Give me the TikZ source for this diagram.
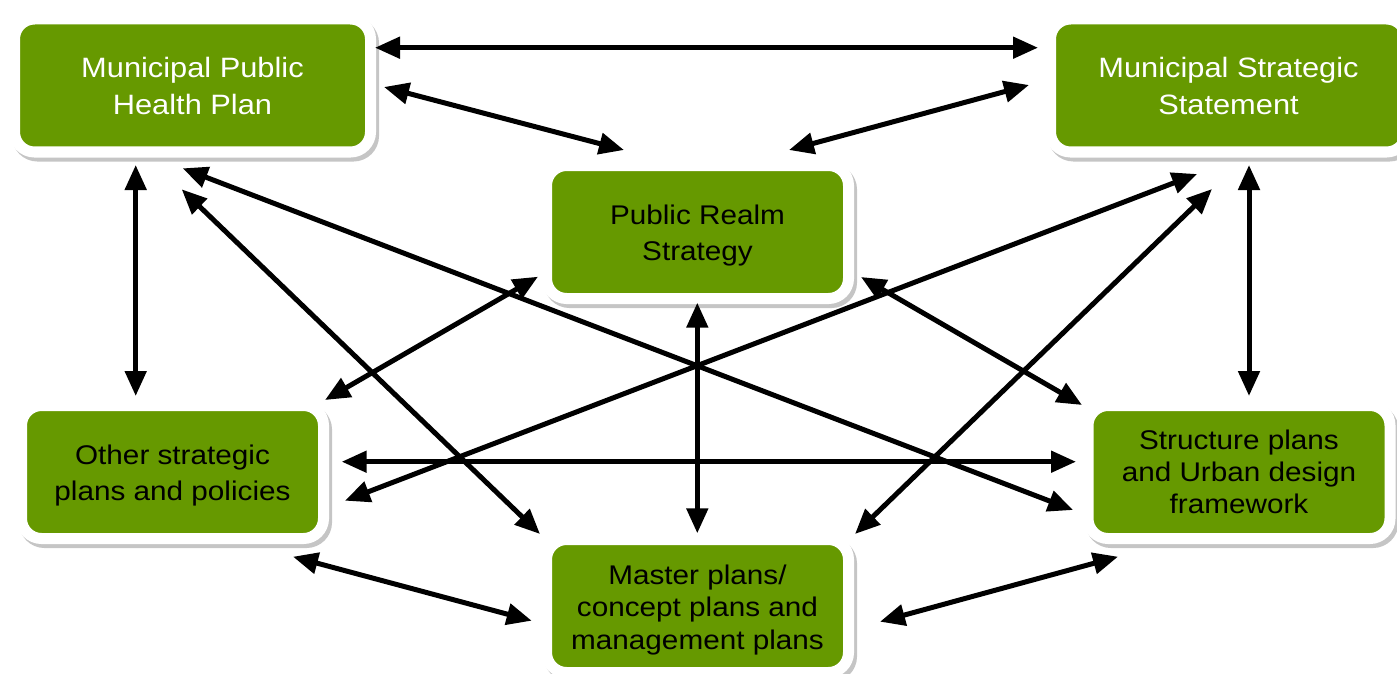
\documentclass[tikz,border=0pt]{standalone}
\usepackage{fontspec}
\setmainfont{Liberation Sans}
\newfontfamily\boxfont{Liberation Sans}[FakeStretch=1.1]
\usetikzlibrary{arrows.meta,shadows}
\definecolor{boxgreen}{RGB}{102,153,0}
\newcommand\txtpush{\rule{0pt}{27.5pt}}
\tikzset{
  pbox/.style={rectangle, rounded corners=20pt, fill=boxgreen, draw=white,
    line width=11pt, inner sep=0pt, align=center, minimum height=133pt,
    drop shadow={shadow xshift=3pt, shadow yshift=-4pt, fill=black!50,
      draw=black!50, line width=11pt, opacity=0.45}},
  widebox/.style={minimum width=356pt},
  narrowbox/.style={minimum width=302pt},
  wtext/.style={text=white, font=\boxfont\fontsize{28}{37}\selectfont},
  ktext/.style={text=black, font=\boxfont\fontsize{27}{36}\selectfont},
  ktextthree/.style={text=black, font=\boxfont\fontsize{27}{32.3}\selectfont},
  link/.style={line width=5pt, black,
    {Triangle[length=25pt,width=21pt]}-{Triangle[length=25pt,width=21pt]}}
}
\begin{document}
\begin{tikzpicture}[x=1pt,y=-1pt]
\useasboundingbox (0,0) rectangle (1397,674);
\fill[white] (0,0) rectangle (1397,674);

% boxes
\node[pbox,widebox,wtext] (mphp) at (192.5,85.5) {Municipal Public\\Health Plan};
\node[pbox,widebox,wtext] (mss) at (1228.5,85.5) {Municipal Strategic\\Statement};
\node[pbox,narrowbox,ktext] (prs) at (697.5,232) {\txtpush Public Realm\\Strategy};
\node[pbox,narrowbox,ktext] (osp) at (172.5,472) {\txtpush Other strategic\\plans and policies};
\node[pbox,narrowbox,ktextthree] (spu) at (1239,472) {Structure plans\\and Urban design\\framework};
\node[pbox,narrowbox,ktextthree] (mcp) at (697.5,606) {\txtpush Master plans/\\concept plans and\\management plans};

% connector end points
\coordinate (mphp-mss) at (375,47.7);
\coordinate (mss-mphp) at (1038,47.7);
\coordinate (mphp-prs) at (384,87);
\coordinate (prs-mphp) at (624,150);
\coordinate (mss-prs) at (1029,85);
\coordinate (prs-mss) at (789,150);
\coordinate (mphp-osp) at (135.7,165);
\coordinate (osp-mphp) at (135.7,396);
\coordinate (mss-spu) at (1249,165);
\coordinate (spu-mss) at (1249,396);
\coordinate (mphp-spu) at (182.7,168.3);
\coordinate (spu-mphp) at (1073,510);
\coordinate (mphp-mcp) at (181.7,189.3);
\coordinate (mcp-mphp) at (540,534);
\coordinate (prs-osp) at (538,276.7);
\coordinate (osp-prs) at (325,400);
\coordinate (prs-spu) at (861,277);
\coordinate (spu-prs) at (1082,405);
\coordinate (prs-mcp) at (697.3,302.7);
\coordinate (mcp-prs) at (697.3,533.3);
\coordinate (mss-osp) at (1197,174);
\coordinate (osp-mss) at (345,500.7);
\coordinate (mss-mcp) at (1212,189);
\coordinate (mcp-mss) at (855,534);
\coordinate (osp-spu) at (341.7,461.7);
\coordinate (spu-osp) at (1076,461.7);
\coordinate (osp-mcp) at (293,556.7);
\coordinate (mcp-osp) at (531.7,620.7);
\coordinate (spu-mcp) at (1118,556.7);
\coordinate (mcp-spu) at (880,621.7);

% connectors
\draw[link] (mphp-mss) -- (mss-mphp);
\draw[link] (mphp-prs) -- (prs-mphp);
\draw[link] (mss-prs) -- (prs-mss);
\draw[link] (mphp-osp) -- (osp-mphp);
\draw[link] (mss-spu) -- (spu-mss);
\draw[link] (mphp-spu) -- (spu-mphp);
\draw[link] (mphp-mcp) -- (mcp-mphp);
\draw[link] (prs-osp) -- (osp-prs);
\draw[link] (prs-spu) -- (spu-prs);
\draw[link] (prs-mcp) -- (mcp-prs);
\draw[link] (mss-osp) -- (osp-mss);
\draw[link] (mss-mcp) -- (mcp-mss);
\draw[link] (osp-spu) -- (spu-osp);
\draw[link] (osp-mcp) -- (mcp-osp);
\draw[link] (spu-mcp) -- (mcp-spu);
\end{tikzpicture}
\end{document}
